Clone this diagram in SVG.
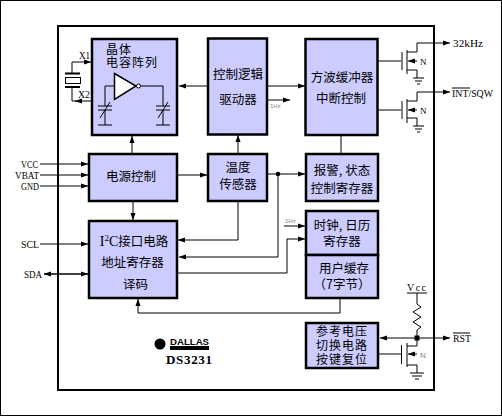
<svg xmlns="http://www.w3.org/2000/svg" width="502" height="416" viewBox="0 0 502 416">
<defs>
<marker id="a" markerUnits="userSpaceOnUse" markerWidth="8" markerHeight="8" refX="7" refY="4" orient="auto-start-reverse"><path d="M0 1.500L3 2.500L7 4L3 5.500L0 6.500Z" fill="#000"/></marker>
</defs>
<style>
.blk{fill:#ccccff;stroke:#000;stroke-width:2.500}
.ln{fill:none;stroke:#000;stroke-width:1}
.ar{fill:none;stroke:#000;stroke-width:1;marker-end:url(#a)}
.cn{font-family:"Noto Sans CJK SC","Noto Sans CJK JP",sans-serif;font-size:12.500px;fill:#000;text-anchor:middle}
.sm{font-size:12px;letter-spacing:1px}
.pin{font-family:"Liberation Serif","DejaVu Serif",serif;font-size:11px;fill:#000}
.hz{font-family:"Liberation Sans",sans-serif;font-size:6px;fill:#888}
</style>
<rect width="502" height="416" fill="#fff"/>
<rect x="0.500" y="0.500" width="501" height="415" fill="none" stroke="#000"/>
<rect x="58" y="26" width="376" height="364" fill="none" stroke="#000" stroke-width="2"/>
<g id="connectors">
<path class="ar" d="M72 62H91"/>
<path class="ar" d="M92 101H75"/>
<path class="ln" d="M72 62V73M72 87V101H76"/>
<path class="ar" d="M207 86H179"/>
<path class="ar" d="M267 86H305"/>
<path class="ar" d="M268 100H290"/>
<path class="ar" d="M132 154V136"/>
<path class="ar" d="M238 154V135"/>
<path class="ln" d="M341 135V154"/>
<path class="ar" d="M40 164H88"/>
<path class="ar" d="M40 175H88"/>
<path class="ar" d="M40 186H88"/>
<path class="ar" d="M177 175H207"/>
<path class="ar" d="M133 201V220"/>
<path class="ar" d="M267 174H305"/>
<circle cx="278" cy="174" r="2.300" fill="#000"/>
<path class="ar" d="M278 174V257H179"/>
<path class="ar" d="M238 201V240H178"/>
<path class="ar" d="M284 226H305"/>
<path class="ar" d="M177 273H287V239H305"/>
<path class="ar" d="M40 244H88"/>
<path class="ar" d="M88 274H44"/>
<path class="ar" d="M44 274H88"/>
<path class="ar" d="M340 298V313H138V299"/>
<path class="ar" d="M417 338H380"/>
<path class="ar" d="M417 338H450"/>
<rect x="414.500" y="335.500" width="5" height="5" fill="#000"/>
<path class="ln" d="M378 354H401"/>
<path class="ln" d="M378 61H401M378 110H401"/>
<path class="ar" d="M417 43H450"/>
<path class="ar" d="M417 92H450"/>
</g>
<g id="crystal-part">
<path d="M65 73.500H80M65 87H80" fill="none" stroke="#000" stroke-width="2"/>
<rect x="65.500" y="77.500" width="15" height="6" fill="#fff" stroke="#000" stroke-width="1"/>
</g>
<g id="node-crystal">
<rect class="blk" x="92" y="39" width="85" height="96"/>
<text class="cn sm" x="119" y="54">晶体</text>
<text class="cn sm" x="132" y="67">电容阵列</text>
<path d="M114.500 73.500L136 86L114.500 99.500Z" fill="#fff" stroke="#000" stroke-width="1.500"/>
<circle cx="138.500" cy="86" r="2" fill="#fff" stroke="#000"/>
<path class="ln" d="M141 86H163V106M163 110V125M156 106H170M156 110H170M158 118L168 102M156 125H170"/>
<path class="ln" d="M114 86H105V106M105 110V125M98 106H112M98 110H112M100 118L110 102M98 125H112"/>
</g>
<g id="node-logic">
<rect class="blk" x="208" y="38.500" width="59" height="96"/>
<text class="cn" x="238" y="79">控制逻辑</text>
<text class="cn" x="238" y="104">驱动器</text>
<text class="hz" x="270" y="108">1Hz</text>
</g>
<g id="node-wave">
<rect class="blk" x="305.500" y="39" width="72" height="96"/>
<text class="cn" x="342" y="82">方波缓冲器</text>
<text class="cn" x="341" y="103">中断控制</text>
</g>
<g id="node-power">
<rect class="blk" x="89" y="154" width="88" height="47"/>
<text class="cn" x="131" y="181">电源控制</text>
</g>
<g id="node-temp">
<rect class="blk" x="208" y="154" width="59" height="47"/>
<text class="cn" x="238" y="172">温度</text>
<text class="cn" x="238" y="189">传感器</text>
</g>
<g id="node-alarm">
<rect class="blk" x="306" y="154" width="72" height="47"/>
<text class="cn" x="342" y="175">报警, 状态</text>
<text class="cn" x="342" y="193">控制寄存器</text>
</g>
<g id="node-i2c">
<rect class="blk" x="89" y="221" width="88" height="77"/>
<text class="cn" x="134" y="246"><tspan font-family="Liberation Serif,serif" font-size="14">I</tspan><tspan font-family="Liberation Serif,serif" font-size="9" dy="-5">2</tspan><tspan font-family="Liberation Serif,serif" font-size="14" dy="5">C</tspan>接口电路</text>
<text class="cn" x="132.500" y="267">地址寄存器</text>
<text class="cn" x="135.500" y="289">译码</text>
</g>
<g id="node-clock">
<rect class="blk" x="306" y="211" width="72" height="44"/>
<text class="cn" x="342" y="230">时钟, 日历</text>
<text class="cn" x="342" y="246">寄存器</text>
<text class="hz" x="285" y="223">1Hz</text>
</g>
<g id="node-user">
<rect class="blk" x="306" y="255" width="72" height="43"/>
<text class="cn" x="344" y="273">用户缓存</text>
<text class="cn" x="342" y="289">（7字节）</text>
</g>
<g id="node-ref">
<rect class="blk" x="306" y="323" width="72" height="45"/>
<text class="cn sm" x="342" y="336">参考电压</text>
<text class="cn sm" x="342" y="350">切换电路</text>
<text class="cn sm" x="342" y="364">按键复位</text>
</g>
<g id="transistor-1">
<path class="ln" d="M402 52V70" stroke-width="1.500"/>
<path class="ln" d="M407 50V74M407 52H417V43M407 70H417V78M413 78H424M415 81H422M417 84H420"/>
<path class="ar" d="M417 61H408"/>
<text class="pin" x="420" y="65" style="font-size:9px">N</text>
</g>
<g id="transistor-2">
<path class="ln" d="M402 101V119" stroke-width="1.500"/>
<path class="ln" d="M407 99V123M407 101H417V92M407 118H417V126M413 126H424M415 129H422M417 132H420"/>
<path class="ar" d="M417 110H408"/>
<text class="pin" x="420" y="114" style="font-size:9px">N</text>
</g>
<g id="transistor-3">
<path class="ln" d="M401.500 345V364" stroke-width="1.500"/>
<path class="ln" d="M407 343V367M407 346H417V338M407 365H417V373M410 373H424M412 376H422M415 379H419"/>
<path class="ar" d="M417 354H408"/>
<text class="hz" x="420" y="358" style="font-size:8px">N</text>
</g>
<g id="resistor">
<path class="ln" d="M407 293H427M417 293V304L421 307L413 312L421 317L413 322L421 327L417 330V338"/>
<text class="pin" x="407" y="291" style="font-size:10px" textLength="19">Vcc</text>
</g>
<g id="labels">
<text class="pin" x="79" y="59" style="font-size:10px" textLength="11" lengthAdjust="spacingAndGlyphs">X1</text>
<text class="pin" x="78" y="98" style="font-size:10px" textLength="12" lengthAdjust="spacingAndGlyphs">X2</text>
<text class="pin" x="21" y="168" textLength="17" lengthAdjust="spacingAndGlyphs">VCC</text>
<text class="pin" x="15" y="179" textLength="24" lengthAdjust="spacingAndGlyphs">VBAT</text>
<text class="pin" x="21" y="190" textLength="18" lengthAdjust="spacingAndGlyphs">GND</text>
<text class="pin" x="21" y="248" textLength="18" lengthAdjust="spacingAndGlyphs">SCL</text>
<text class="pin" x="24" y="278" textLength="18" lengthAdjust="spacingAndGlyphs">SDA</text>
<text class="pin" x="453" y="47" textLength="30" lengthAdjust="spacingAndGlyphs">32kHz</text>
<text class="pin" x="452" y="97" textLength="41" lengthAdjust="spacingAndGlyphs">INT/SQW</text>
<path class="ln" d="M452 88H470"/>
<text class="pin" x="453" y="342" textLength="18" lengthAdjust="spacingAndGlyphs">RST</text>
<path class="ln" d="M453 333H470"/>
</g>
<g id="logo">
<circle cx="160" cy="344" r="5.500" fill="#000"/>
<text x="170" y="345" font-family="Liberation Sans,sans-serif" font-size="9" font-weight="bold" textLength="39" lengthAdjust="spacingAndGlyphs">DALLAS</text>
<rect x="170" y="346" width="39" height="4" fill="#000"/>
<text x="166" y="364" font-family="Liberation Serif,serif" font-size="13" font-weight="bold" textLength="46">DS3231</text>
</g>
</svg>
